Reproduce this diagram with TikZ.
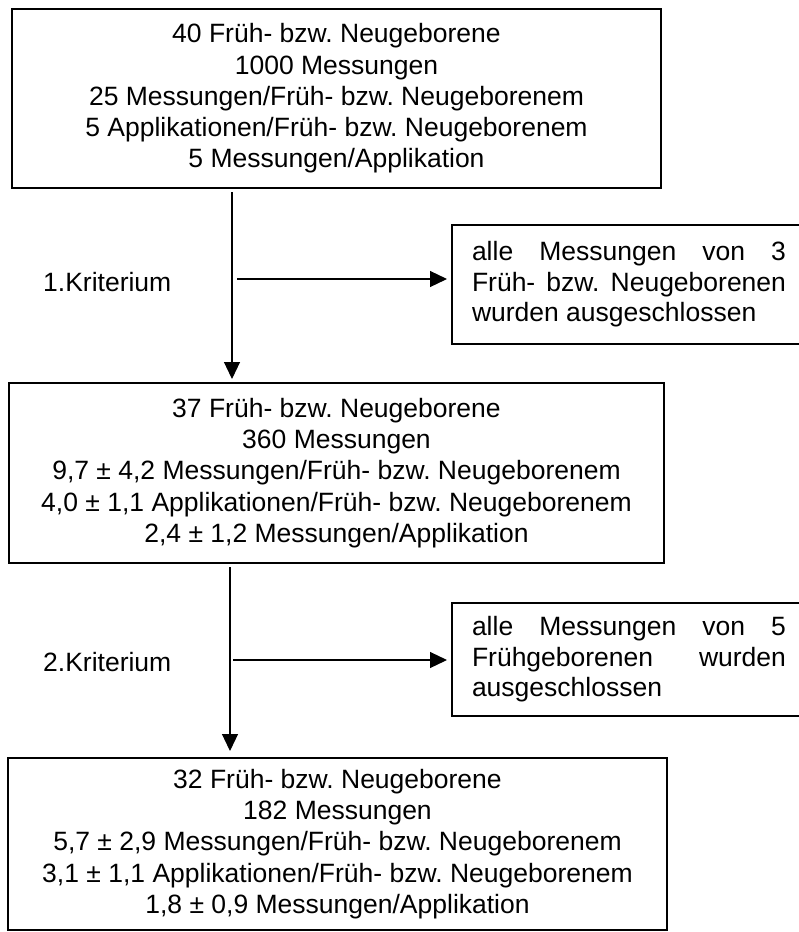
\documentclass[tikz,border=0pt]{standalone}
\usepackage{fontspec}
\setmainfont{Liberation Sans}
\usetikzlibrary{arrows.meta}
\frenchspacing
\begin{document}
\begin{tikzpicture}[x=1pt,y=-1pt,
  mainbox/.style={draw, line width=1.5pt, inner sep=0pt, outer sep=0pt, align=center, font=\fontsize{26.5}{31.3}\selectfont\frenchspacing},
  sidebox/.style={draw, line width=1.3pt, inner sep=0pt, outer sep=0pt, align=left, font=\fontsize{26.5}{30.5}\selectfont\frenchspacing},
  lbl/.style={anchor=west, inner sep=0pt, font=\fontsize{26.5}{31.3}\selectfont\frenchspacing},
  conn/.style={line width=1.2pt},
  arr/.style={conn, -{Triangle[width=16pt,length=17pt]}}]
\clip (0,0) rectangle (799,932);
\fill[white] (0,0) rectangle (799,932);

\node[mainbox, minimum width=649pt, minimum height=179pt] (b1) at (336.5,98.5)
  {40 Früh- bzw. Neugeborene\\1000 Messungen\\25 Messungen/Früh- bzw. Neugeborenem\\5 Applikationen/Früh- bzw. Neugeborenem\\5 Messungen/Applikation};
\node[mainbox, minimum width=655pt, minimum height=180pt] (b2) at (336.5,473)
  {37 Früh- bzw. Neugeborene\\360 Messungen\\9,7 ± 4,2 Messungen/Früh- bzw. Neugeborenem\\4,0 ± 1,1 Applikationen/Früh- bzw. Neugeborenem\\2,4 ± 1,2 Messungen/Applikation};
\node[mainbox, minimum width=659pt, minimum height=172pt] (b3) at (337.5,844)
  {32 Früh- bzw. Neugeborene\\182 Messungen\\5,7 ± 2,9 Messungen/Früh- bzw. Neugeborenem\\3,1 ± 1,1 Applikationen/Früh- bzw. Neugeborenem\\1,8 ± 0,9 Messungen/Applikation};

\node[sidebox, minimum width=354pt, minimum height=119pt] (s1) at (629,284.5)
  {\hbox to 314pt{alle\hfill Messungen\hfill von\hfill 3}\\\hbox to 314pt{Früh-\hfill bzw.\hfill Neugeborenen}\\wurden ausgeschlossen};
\node[sidebox, minimum width=354pt, minimum height=113pt] (s2) at (629,659.5)
  {\hbox to 314pt{alle\hfill Messungen\hfill von\hfill 5}\\\hbox to 314pt{Frühgeborenen\hfill wurden}\\ausgeschlossen};

\node[lbl] (k1) at (43,282) {1.Kriterium};
\node[lbl] (k2) at (43,662) {2.Kriterium};

\coordinate (x1) at (232,0);
\coordinate (x2) at (230,0);
\coordinate (h1) at (237,279);
\coordinate (h2) at (233,660);

\draw[arr] ([yshift=-4pt]b1.south -| x1) -- ([yshift=4pt]b2.north -| x1);
\draw[arr, shorten >=5pt] (h1) -- (h1 -| s1.west);
\draw[arr] ([yshift=-4pt]b2.south -| x2) -- ([yshift=7pt]b3.north -| x2);
\draw[arr, shorten >=5pt] (h2) -- (h2 -| s2.west);
\end{tikzpicture}
\end{document}
